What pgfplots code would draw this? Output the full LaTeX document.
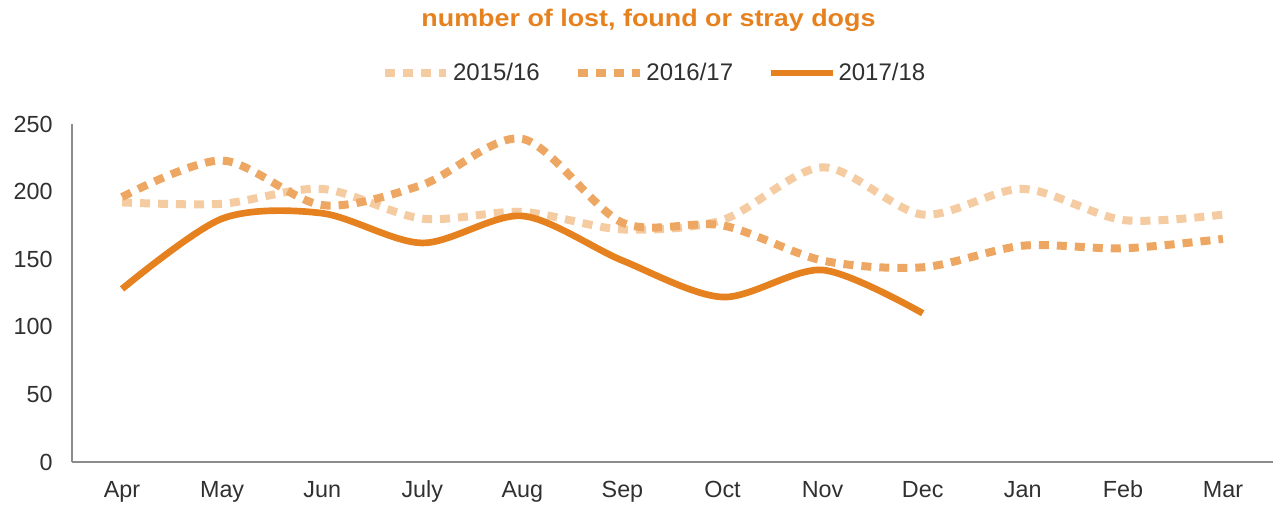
\documentclass[border=0pt]{standalone}
\usepackage{pgfplots}
\pgfplotsset{compat=1.18}
\usepackage{graphicx}
\usepackage{fontspec}
\setmainfont{Liberation Sans}
\definecolor{cA}{HTML}{F5CBA1}
\definecolor{cB}{HTML}{EDA762}
\definecolor{cC}{HTML}{E6811F}
\definecolor{txt}{HTML}{303030}
\begin{document}
\begin{tikzpicture}[x=1pt,y=1pt]
\useasboundingbox (-54,-33) rectangle (906,346.5);
\begin{axis}[at={(0,0)}, anchor=south west, scale only axis,
  width=900.75pt, height=253.5pt,
  xmin=-0.5, xmax=11.5, ymin=0, ymax=250,
  ytick={0,50,...,250},
  xtick={0,...,11},
  xticklabels={Apr,May,Jun,July,Aug,Sep,Oct,Nov,Dec,Jan,Feb,Mar},
  axis x line*=bottom, axis y line*=left,
  axis line style={draw=gray!90, line width=1pt},
  major tick length=0pt,
  /pgf/number format/assume math mode=true,
  tick label style={font=\fontsize{17.5}{20}\selectfont, text=txt},
  yticklabel style={xshift=-11pt},
  xticklabel style={anchor=base, yshift=-27pt},
  title={\scalebox{1.12}[1]{number of lost, found or stray dogs}},
  title style={at={(0.48,1.264)}, anchor=base, font=\bfseries\fontsize{18}{20}\selectfont, text=cC},
  legend columns=3,
  legend style={at={(0.485,1.151)}, anchor=center, draw=none, fill=none,
    font=\fontsize{18}{20}\selectfont, text=txt,
    /tikz/every even column/.append style={column sep=24pt}},
  legend image code/.code={\draw[#1] (0pt,0pt) -- (46pt,0pt);},
]
\addplot[cA, line width=6pt, line cap=butt, dash pattern=on 7.5pt off 6pt, smooth] coordinates {
 (0,192) (1,191) (2,202) (3,180) (4,185) (5,172) (6,179) (7,218) (8,183) (9,202) (10,179) (11,183)};
\addlegendentry{2015/16}
\addplot[cB, line width=6pt, line cap=butt, dash pattern=on 7.5pt off 6pt, smooth] coordinates {
 (0,196) (1,223) (2,190) (3,205) (4,239) (5,177) (6,175) (7,149) (8,144) (9,160) (10,158) (11,165)};
\addlegendentry{2016/17}
\addplot[cC, line width=5pt, line join=round, smooth] coordinates {
 (0,128) (1,180) (2,184) (3,162) (4,182) (5,149) (6,122) (7,142) (8,110)};
\addlegendentry{2017/18}
\end{axis}
\end{tikzpicture}
\end{document}
